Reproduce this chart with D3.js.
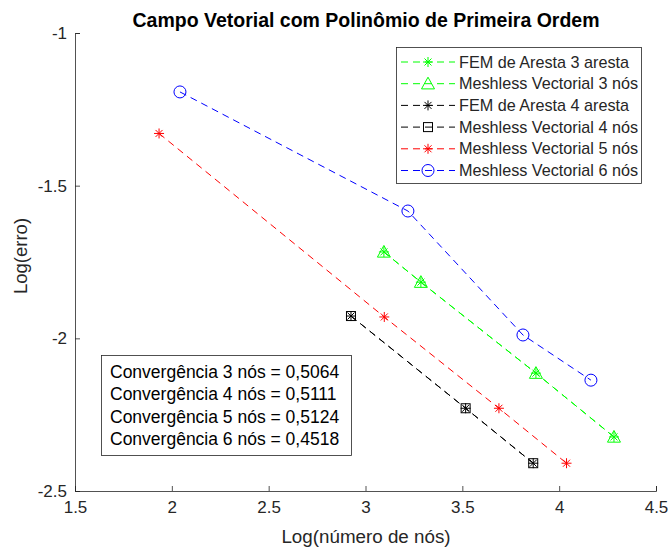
<!DOCTYPE html>
<html>
<head>
<meta charset="utf-8">
<script src="https://cdn.jsdelivr.net/npm/d3@7"></script>
<style>
  body { margin: 0; background: #fff; }
  text { font-family: "Liberation Sans", Arial, sans-serif; }
</style>
</head>
<body>
<svg id="chart" width="669" height="548"></svg>
<script>
// data (log scale values)
var x3 = [3.095, 3.286, 3.880, 4.283];
var y3 = [-1.717, -1.816, -2.114, -2.323];
var x4 = [2.925, 3.517, 3.866];
var y4 = [-1.927, -2.229, -2.409];
var x5 = [1.934, 3.097, 3.689, 4.038];
var y5 = [-1.329, -1.930, -2.229, -2.409];
var x6 = [2.042, 3.219, 3.813, 4.164];
var y6 = [-1.193, -1.583, -1.989, -2.137];

var xTicks = [1.5, 2, 2.5, 3, 3.5, 4, 4.5];
var yTicks = [-2.5, -2, -1.5, -1];

var legendLabels = ['FEM de Aresta 3 aresta', 'Meshless Vectorial 3 nós', 'FEM de Aresta 4 aresta',
                    'Meshless Vectorial 4 nós', 'Meshless Vectorial 5 nós', 'Meshless Vectorial 6 nós'];
var convLabels = ['Convergência 3 nós = 0,5064', 'Convergência 4 nós = 0,5111',
                  'Convergência 5 nós = 0,5124', 'Convergência 6 nós = 0,4518'];

var series = [
  {xs: x3, ys: y3, color: '#00ff00', marker: 'asterisk'},
  {xs: x3, ys: y3, color: '#00ff00', marker: 'triangle'},
  {xs: x4, ys: y4, color: '#000000', marker: 'asterisk'},
  {xs: x4, ys: y4, color: '#000000', marker: 'square'},
  {xs: x5, ys: y5, color: '#ff0000', marker: 'asterisk'},
  {xs: x6, ys: y6, color: '#0000ff', marker: 'circle'}
];

var svg = d3.select('#chart');
var margin = {left: 75, right: 13, top: 33, bottom: 57};
var width = 669 - margin.left - margin.right;
var height = 548 - margin.top - margin.bottom;

var x = d3.scaleLinear().domain([1.5, 4.5]).range([margin.left, margin.left + width]);
var y = d3.scaleLinear().domain([-2.5, -1]).range([margin.top + height, margin.top]);

var axisColor = '#262626';

// X axis
var gx = svg.append('g')
  .attr('transform', 'translate(0,' + y(-2.5) + ')')
  .call(d3.axisBottom(x).tickValues(xTicks).tickSize(-5).tickPadding(10).tickFormat(d3.format('')));
// Y axis
var gy = svg.append('g')
  .attr('transform', 'translate(' + x(1.5) + ',0)')
  .call(d3.axisLeft(y).tickValues(yTicks).tickSize(-5).tickPadding(8).tickFormat(d3.format('')));

[gx, gy].forEach(function(g) {
  g.select('.domain').attr('stroke', axisColor).attr('stroke-width', 0.8);
  g.selectAll('.tick line').attr('stroke', axisColor).attr('stroke-width', 0.8);
  g.selectAll('.tick text').attr('fill', axisColor).style('font-size', '17px')
    .style('font-family', '"Liberation Sans", Arial, sans-serif');
});
gy.selectAll('.tick text').text(function(d) { return d3.format('')(d).replace('−', '-'); });

// labels
svg.append('text').attr('x', 366).attr('y', 27).attr('text-anchor', 'middle')
  .style('font-size', '19.5px').style('font-weight', 'bold').text('Campo Vetorial com Polinômio de Primeira Ordem');
svg.append('text').attr('x', 366).attr('y', 543).attr('text-anchor', 'middle')
  .style('font-size', '18.8px').attr('fill', axisColor).text('Log(número de nós)');
svg.append('text').attr('transform', 'translate(27,256) rotate(-90)').attr('text-anchor', 'middle')
  .style('font-size', '18.5px').attr('fill', axisColor).text('Log(erro)');

function drawMarker(g, type, cx, cy, color) {
  if (type === 'asterisk') {
    var r = 5;
    var d = 'M' + (cx - r) + ',' + cy + 'H' + (cx + r) +
            'M' + cx + ',' + (cy - r) + 'V' + (cy + r) +
            'M' + (cx - r * 0.7) + ',' + (cy - r * 0.7) + 'L' + (cx + r * 0.7) + ',' + (cy + r * 0.7) +
            'M' + (cx - r * 0.7) + ',' + (cy + r * 0.7) + 'L' + (cx + r * 0.7) + ',' + (cy - r * 0.7);
    g.append('path').attr('d', d).attr('stroke', color).attr('stroke-width', 1).attr('fill', 'none');
  } else if (type === 'triangle') {
    var s = 6.5;
    g.append('path').attr('d', 'M' + cx + ',' + (cy - s) + 'L' + (cx + s) + ',' + (cy + s * 0.8) +
      'L' + (cx - s) + ',' + (cy + s * 0.8) + 'Z')
      .attr('stroke', color).attr('stroke-width', 1).attr('fill', 'none');
  } else if (type === 'square') {
    var h = 4.5;
    g.append('rect').attr('x', cx - h).attr('y', cy - h).attr('width', 2 * h).attr('height', 2 * h)
      .attr('stroke', color).attr('stroke-width', 1).attr('fill', 'none');
  } else if (type === 'circle') {
    g.append('circle').attr('cx', cx).attr('cy', cy).attr('r', 6)
      .attr('stroke', color).attr('stroke-width', 1).attr('fill', 'none');
  }
}

// lines and markers
var line = d3.line().x(function(d) { return x(d[0]); }).y(function(d) { return y(d[1]); });
series.forEach(function(s) {
  var pts = d3.zip(s.xs, s.ys);
  svg.append('path').datum(pts).attr('d', line)
    .attr('fill', 'none').attr('stroke', s.color).attr('stroke-width', 1)
    .attr('stroke-dasharray', '7,5');
  var g = svg.append('g');
  pts.forEach(function(p) { drawMarker(g, s.marker, x(p[0]), y(p[1]), s.color); });
});

// legend
var lg = svg.append('g');
lg.append('rect').attr('x', 396.5).attr('y', 47.5).attr('width', 245).attr('height', 136)
  .attr('fill', '#fff').attr('stroke', axisColor).attr('stroke-width', 0.8);
legendLabels.forEach(function(lab, i) {
  var yy = 62 + i * 21.7;
  var s = series[i];
  lg.append('line').attr('x1', 401).attr('x2', 455).attr('y1', yy).attr('y2', yy)
    .attr('stroke', s.color).attr('stroke-width', 1).attr('stroke-dasharray', '7,5');
  drawMarker(lg, s.marker, 428, yy, s.color);
  lg.append('text').attr('x', 459).attr('y', yy).attr('dy', '0.35em')
    .style('font-size', '16.2px').attr('fill', axisColor).text(lab);
});

// convergence box
var cg = svg.append('g');
cg.append('rect').attr('x', 101.5).attr('y', 355.5).attr('width', 250).attr('height', 100)
  .attr('fill', '#fff').attr('stroke', axisColor).attr('stroke-width', 0.8);
convLabels.forEach(function(lab, i) {
  cg.append('text').attr('x', 110).attr('y', 372 + i * 22.3).attr('dy', '0.35em')
    .style('font-size', '17.5px').attr('fill', '#000').text(lab);
});
</script>
</body>
</html>
